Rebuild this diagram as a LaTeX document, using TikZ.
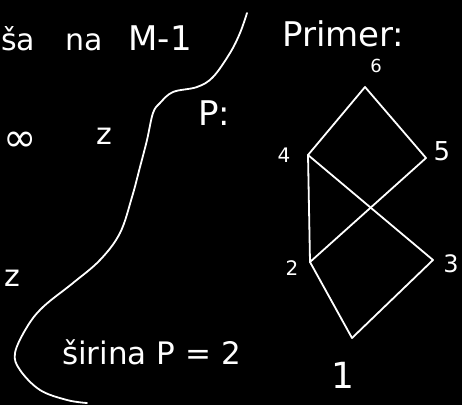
\documentclass[tikz,border=0pt]{standalone}
\usepackage{fontspec}
\setsansfont{DejaVu Sans}
\begin{document}
\begin{tikzpicture}[x=1pt,y=-1pt,
  chalk/.style={draw=white,line width=1.8pt,line cap=round,line join=round},
  hand/.style={text=white,font=\sffamily\fontsize{#1}{#1}\selectfont,inner sep=0pt}]
\fill[black] (0,0) rectangle (462,405);
\useasboundingbox (0,0) rectangle (462,405);
% texts
\node[hand=30,anchor=base west] (t1) at (1,50) {ša\hspace{30pt}na\hspace{26pt}{\fontsize{34}{34}\selectfont M-1}};
\node[hand=34,anchor=base west] (t2) at (282,46) {Primer:};
\node[hand=34,anchor=base west] (t3) at (198,125) {P:};
\node[hand=40] (t4) at (20,142) {∞};
\node[hand=30] (t5) at (104,136) {z};
\node[hand=30] (t6) at (12,278) {z};
\node[hand=31,anchor=base west] (t7) at (62,364) {širina P = 2};
% divider curve
\draw[chalk] plot[smooth,tension=0.6] coordinates {(247,13) (240,33) (230,53) (213,77) (197,87) (173,92) (160,103) (153,113) (147,140) (140,167) (132,197) (120,233) (100,260) (73,283) (43,307) (27,327) (15,353) (20,370) (40,390) (67,400) (87,403)};
% graph vertices
\coordinate (n6) at (365,87);
\coordinate (n4) at (308,155);
\coordinate (n5) at (426,158);
\coordinate (n2) at (310,262);
\coordinate (n3) at (433,260);
\coordinate (n1) at (352,338);
% labels
\node[hand=18] (l6) at (376,66) {6};
\node[hand=20] (l4) at (284,155) {4};
\node[hand=26] (l5) at (442,151) {5};
\node[hand=20] (l2) at (292,268) {2};
\node[hand=24] (l3) at (451,264) {3};
\node[hand=36] (l1) at (343,375) {1};
% edges
\draw[chalk] (n6) -- (n4);
\draw[chalk] (n6) -- (n5);
\draw[chalk] (n4) -- (n2);
\draw[chalk] (n4) -- (n3);
\draw[chalk] (n5) -- (n2);
\draw[chalk] (n2) -- (n1);
\draw[chalk] (n3) -- (n1);
\end{tikzpicture}
\end{document}
